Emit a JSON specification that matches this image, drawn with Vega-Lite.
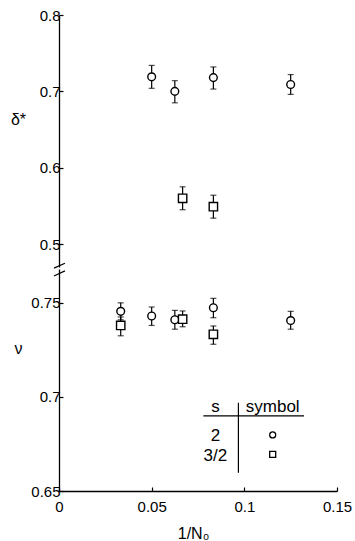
{
  "$schema": "https://vega.github.io/schema/vega-lite/v6.json",
  "padding": {"left": 10, "top": 8, "right": 5, "bottom": 5},
  "spacing": 0,
  "config": {
    "view": {"stroke": null},
    "font": "Liberation Sans",
    "axis": {
      "grid": false,
      "labelFlush": false,
      "domainColor": "black",
      "domainWidth": 1.3,
      "tickColor": "black",
      "tickWidth": 1.2,
      "tickSize": -4,
      "labelColor": "black",
      "labelFont": "Liberation Sans",
      "labelFontSize": 15,
      "titleFont": "Liberation Sans",
      "titleColor": "black",
      "titleFontWeight": "normal",
      "titleFontSize": 16
    }
  },
  "datasets": {
    "measurements": [
      {"quantity": "delta", "s": "2", "invN": 0.05, "value": 0.719, "lo": 0.704, "hi": 0.734},
      {"quantity": "delta", "s": "2", "invN": 0.0625, "value": 0.700, "lo": 0.685, "hi": 0.714},
      {"quantity": "delta", "s": "2", "invN": 0.0833, "value": 0.718, "lo": 0.703, "hi": 0.732},
      {"quantity": "delta", "s": "2", "invN": 0.125, "value": 0.709, "lo": 0.696, "hi": 0.722},
      {"quantity": "delta", "s": "3/2", "invN": 0.0667, "value": 0.560, "lo": 0.545, "hi": 0.575},
      {"quantity": "delta", "s": "3/2", "invN": 0.0833, "value": 0.549, "lo": 0.534, "hi": 0.564},
      {"quantity": "nu", "s": "2", "invN": 0.0333, "value": 0.7455, "lo": 0.741, "hi": 0.750},
      {"quantity": "nu", "s": "3/2", "invN": 0.0333, "value": 0.738, "lo": 0.7325, "hi": 0.7425},
      {"quantity": "nu", "s": "2", "invN": 0.05, "value": 0.743, "lo": 0.738, "hi": 0.7478},
      {"quantity": "nu", "s": "2", "invN": 0.0625, "value": 0.741, "lo": 0.736, "hi": 0.746},
      {"quantity": "nu", "s": "3/2", "invN": 0.0667, "value": 0.7413, "lo": 0.7373, "hi": 0.7457},
      {"quantity": "nu", "s": "2", "invN": 0.0833, "value": 0.7474, "lo": 0.7421, "hi": 0.7524},
      {"quantity": "nu", "s": "3/2", "invN": 0.0833, "value": 0.7333, "lo": 0.728, "hi": 0.7377},
      {"quantity": "nu", "s": "2", "invN": 0.125, "value": 0.7406, "lo": 0.736, "hi": 0.7455}
    ],
    "keyText": [
      {"text": "s", "invN": 0.0844, "value": 0.6922},
      {"text": "symbol", "invN": 0.1153, "value": 0.6922},
      {"text": "2", "invN": 0.0844, "value": 0.6766},
      {"text": "3/2", "invN": 0.0844, "value": 0.666}
    ],
    "keySymbols": [
      {"s": "2", "invN": 0.1153, "value": 0.6798},
      {"s": "3/2", "invN": 0.1153, "value": 0.6695}
    ],
    "keyLines": [
      {"invN": 0.0779, "invN2": 0.1322, "value": 0.6899, "value2": 0.6899},
      {"invN": 0.0968, "invN2": 0.0968, "value": 0.6969, "value2": 0.6597}
    ]
  },
  "vconcat": [
    {
      "width": 278,
      "height": 252,
      "layer": [
        {
          "data": {"name": "measurements"},
          "transform": [{"filter": "datum.quantity === 'delta'"}],
          "mark": {"type": "errorbar", "color": "black", "thickness": 1.2, "ticks": {"size": 6, "thickness": 1.2}},
          "encoding": {
            "x": {"field": "invN", "type": "quantitative", "scale": {"domain": [0, 0.15], "nice": false}, "axis": null},
            "y": {"field": "lo", "type": "quantitative", "title": "δ*", "scale": {"domain": [0.47, 0.8], "nice": false, "zero": false}},
            "y2": {"field": "hi"}
          }
        },
        {
          "data": {"name": "measurements"},
          "transform": [{"filter": "datum.quantity === 'delta'"}],
          "mark": {"type": "point", "filled": true, "fill": "white", "stroke": "black", "strokeWidth": 1.4, "opacity": 1},
          "encoding": {
            "x": {"field": "invN", "type": "quantitative", "axis": null},
            "y": {"field": "value", "type": "quantitative", "title": "δ*",
              "axis": {"values": [0.5, 0.6, 0.7, 0.8], "format": "~g", "labelPadding": 3,
                "titleAngle": 0, "titleX": -41, "titleY": 104, "titleAlign": "center", "titleBaseline": "middle"}},
            "shape": {"field": "s", "type": "nominal", "scale": {"domain": ["2", "3/2"], "range": ["circle", "square"]}, "legend": null},
            "size": {"field": "s", "type": "nominal", "scale": {"domain": ["2", "3/2"], "range": [60, 70]}, "legend": null}
          }
        },
        {
          "data": {"values": [{"invN": -0.0027, "invN2": 0.0032, "value": 0.4685, "value2": 0.475}]},
          "mark": {"type": "rule", "color": "black", "strokeWidth": 1.2, "clip": false},
          "encoding": {
            "x": {"field": "invN", "type": "quantitative"},
            "x2": {"field": "invN2"},
            "y": {"field": "value", "type": "quantitative"},
            "y2": {"field": "value2"}
          }
        }
      ]
    },
    {
      "width": 278,
      "height": 222,
      "layer": [
        {
          "data": {"name": "measurements"},
          "transform": [{"filter": "datum.quantity === 'nu'"}],
          "mark": {"type": "errorbar", "color": "black", "thickness": 1.2, "ticks": {"size": 6, "thickness": 1.2}},
          "encoding": {
            "x": {"field": "invN", "type": "quantitative", "title": "1/N₀", "scale": {"domain": [0, 0.15], "nice": false}},
            "y": {"field": "lo", "type": "quantitative", "title": "ν", "scale": {"domain": [0.65, 0.768], "nice": false, "zero": false}},
            "y2": {"field": "hi"}
          }
        },
        {
          "data": {"name": "measurements"},
          "transform": [{"filter": "datum.quantity === 'nu'"}],
          "mark": {"type": "point", "filled": true, "fill": "white", "stroke": "black", "strokeWidth": 1.4, "opacity": 1},
          "encoding": {
            "x": {"field": "invN", "type": "quantitative", "title": "1/N₀",
              "axis": {"values": [0, 0.05, 0.1, 0.15], "format": "~g", "labelPadding": 12,
                "titleX": 134, "titleY": 42, "titleBaseline": "middle"}},
            "y": {"field": "value", "type": "quantitative", "title": "ν",
              "axis": {"values": [0.65, 0.7, 0.75], "format": "~g", "labelPadding": 3,
                "titleAngle": 0, "titleX": -41, "titleY": 79, "titleAlign": "center", "titleBaseline": "middle"}},
            "shape": {"field": "s", "type": "nominal", "scale": {"domain": ["2", "3/2"], "range": ["circle", "square"]}, "legend": null},
            "size": {"field": "s", "type": "nominal", "scale": {"domain": ["2", "3/2"], "range": [60, 70]}, "legend": null}
          }
        },
        {
          "data": {"values": [{"invN": -0.0027, "invN2": 0.0032, "value": 0.7643, "value2": 0.767}]},
          "mark": {"type": "rule", "color": "black", "strokeWidth": 1.2, "clip": false},
          "encoding": {
            "x": {"field": "invN", "type": "quantitative"},
            "x2": {"field": "invN2"},
            "y": {"field": "value", "type": "quantitative"},
            "y2": {"field": "value2"}
          }
        },
        {
          "data": {"name": "keyLines"},
          "mark": {"type": "rule", "color": "black", "strokeWidth": 1.2},
          "encoding": {
            "x": {"field": "invN", "type": "quantitative"},
            "x2": {"field": "invN2"},
            "y": {"field": "value", "type": "quantitative"},
            "y2": {"field": "value2"}
          }
        },
        {
          "data": {"name": "keyText"},
          "mark": {"type": "text", "fontSize": 17, "font": "Liberation Sans", "color": "black", "align": "center", "baseline": "alphabetic"},
          "encoding": {
            "x": {"field": "invN", "type": "quantitative"},
            "y": {"field": "value", "type": "quantitative"},
            "text": {"field": "text"}
          }
        },
        {
          "data": {"name": "keySymbols"},
          "mark": {"type": "point", "filled": true, "fill": "white", "stroke": "black", "strokeWidth": 1.3, "opacity": 1},
          "encoding": {
            "x": {"field": "invN", "type": "quantitative"},
            "y": {"field": "value", "type": "quantitative"},
            "shape": {"field": "s", "type": "nominal", "legend": null},
            "size": {"value": 36}
          }
        }
      ]
    }
  ]
}
